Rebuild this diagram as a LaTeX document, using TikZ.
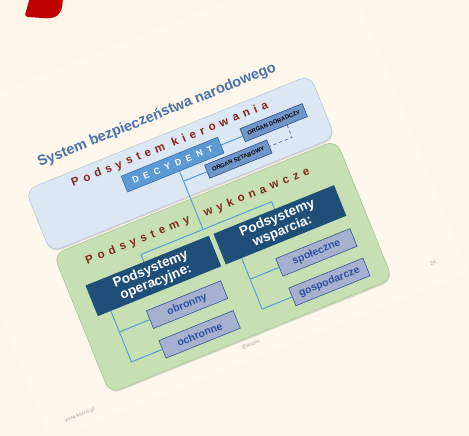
\documentclass[tikz,border=0pt]{standalone}
\usepackage{fontspec}
\setmainfont{Liberation Sans}
\newfontfamily\spacedA[LetterSpace=42]{Liberation Sans}
\newfontfamily\spacedB[LetterSpace=58]{Liberation Sans}
\usetikzlibrary{shadows}
\definecolor{bgc}{HTML}{FCF5E8}
\definecolor{slidec}{HTML}{FDF7EC}
\definecolor{redc}{HTML}{C00000}
\definecolor{bluep}{HTML}{DCE7F4}
\definecolor{bluepb}{HTML}{B9C9DD}
\definecolor{greenp}{HTML}{C6E0B3}
\definecolor{greenpb}{HTML}{A9C898}
\definecolor{titlec}{HTML}{4A72A8}
\definecolor{labred}{HTML}{8C2121}
\definecolor{labbrown}{HTML}{7E2A16}
\definecolor{decf}{HTML}{5B9BD5}
\definecolor{decb}{HTML}{3A6EA5}
\definecolor{orgf}{HTML}{7196C9}
\definecolor{orgb}{HTML}{2F4F80}
\definecolor{navy}{HTML}{1F4E79}
\definecolor{subf}{HTML}{A6B0CF}
\definecolor{subb}{HTML}{2F5597}
\definecolor{subt}{HTML}{2F4F9F}
\definecolor{linec}{HTML}{5B9BD5}
\definecolor{footc}{HTML}{A8A49C}
\begin{document}
\begin{tikzpicture}[x=1pt,y=1pt,
  bluepanel/.style={draw=bluepb, fill=bluep, line width=0.6pt, rounded corners=11pt,
    drop shadow={opacity=0.25, shadow xshift=0.8pt, shadow yshift=-1.5pt}},
  greenpanel/.style={draw=greenpb, fill=greenp, line width=0.6pt, rounded corners=11pt,
    drop shadow={opacity=0.25, shadow xshift=0.8pt, shadow yshift=-1.5pt}},
  titletext/.style={text=titlec, font=\bfseries\fontsize{14.5}{16}\selectfont, inner sep=0pt},
  redlab/.style={text=labred, font=\spacedA\bfseries\fontsize{11.5}{13}\selectfont, inner sep=0pt},
  brownlab/.style={text=labbrown, font=\spacedA\bfseries\fontsize{11.5}{13}\selectfont, inner sep=0pt},
  decbox/.style={draw=decb, fill=decf, line width=0.6pt, text=white,
    font=\spacedB\bfseries\fontsize{9}{10}\selectfont, minimum width=104pt, minimum height=17pt, inner sep=0pt},
  orgbox/.style={draw=orgb, fill=orgf, line width=0.6pt, text=black,
    font=\bfseries\fontsize{5.8}{6.5}\selectfont, minimum width=67pt, minimum height=14pt, inner sep=0pt},
  navybox/.style={fill=navy, text=white, align=center,
    font=\bfseries\fontsize{13.5}{14}\selectfont, minimum height=33pt, inner sep=0pt},
  subbox/.style={draw=subb, fill=subf, line width=0.6pt, text=subt,
    font=\bfseries\fontsize{10.5}{12}\selectfont, minimum width=80pt, minimum height=19pt, inner sep=0pt},
  conn/.style={draw=linec, line width=1pt},
  dconn/.style={draw=gray!70!blue, line width=0.7pt, dashed},
  foot/.style={text=footc, font=\fontsize{5.2}{6}\selectfont, inner sep=0pt}]
\useasboundingbox (0,0) rectangle (469,-436);
\fill[bgc] (0,0) rectangle (469,-436);
% red corner mark
\fill[redc] (29.5,1) -- (63,1) -- (62.2,-6) .. controls (60.8,-14.5) and (56.5,-18) .. (47,-18.3)
  -- (28,-17) .. controls (25.6,-16.8) and (25,-15.6) .. (25.3,-14) -- cycle;
\begin{scope}[shift={(57,-255)}, rotate=22, transform shape]
  \fill[slidec] (-75,172) rectangle (375,-170);
  \node[bluepanel, minimum width=307pt, minimum height=67pt] (bp) at (148.5,38.5) {};
  \node[greenpanel, minimum width=305pt, minimum height=150pt] (gp) at (149.5,-73) {};
  \node[titletext] (title) at (145,92) {System bezpieczeństwa narodowego};
  \node[redlab] (lk) at (146,60) {Podsystem kierowania};
  \node[decbox] (dec) at (141,40.5) {DECYDENT};
  \node[orgbox] (od) at (250.5,41.5) {ORGAN DORADCZY};
  \node[orgbox] (os) at (204,21) {ORGAN SZTABOWY};
  \node[brownlab] (lw) at (145,-17) {Podsystemy\ \ wykonawcze};
  \node[navybox, minimum width=133pt] (op) at (81.5,-55.5) {Podsystemy\\operacyjne:};
  \node[navybox, minimum width=130pt] (ws) at (218,-55.5) {Podsystemy\\wsparcia:};
  \node[subbox] (obr) at (102,-94.75) {obronny};
  \node[subbox] (och) at (102.5,-127) {ochronne};
  \node[subbox] (spo) at (241.5,-94.75) {społeczne};
  \node[subbox] (gos) at (242.5,-127) {gospodarcze};
  % connectors
  \coordinate (j0) at (145,-31);
  \coordinate (bl) at (78,-31);
  \coordinate (br) at (219,-31);
  \coordinate (dc) at (262,21);
  \coordinate (vl) at (29,-127);
  \coordinate (vr) at (170,-127);
  \draw[conn] (dec.south -| j0) -- (j0);
  \draw[conn] (j0 |- os.west) -- (os.west);
  \draw[conn] (dec.east) -- (dec.east -| od.west);
  \draw[conn] (bl) -- (br);
  \draw[conn] (bl) -- (bl |- op.north);
  \draw[conn] (br) -- (br |- ws.north);
  \draw[dconn] (od.south -| dc) -- (dc) -- (os.east);
  \draw[conn] (op.south -| vl) -- (vl) -- (och.west);
  \draw[conn] (vl |- obr.west) -- (obr.west);
  \draw[conn] (ws.south -| vr) -- (vr) -- (gos.west);
  \draw[conn] (vr |- spo.west) -- (spo.west);
  % footer
  \node[foot] (f1) at (-39,-157) {www.kozmi.pl};
  \node[foot] (f2) at (346,-148) {24};
  \node[foot] (f3) at (146,-156) {@kozmi};
\end{scope}
\end{tikzpicture}
\end{document}
